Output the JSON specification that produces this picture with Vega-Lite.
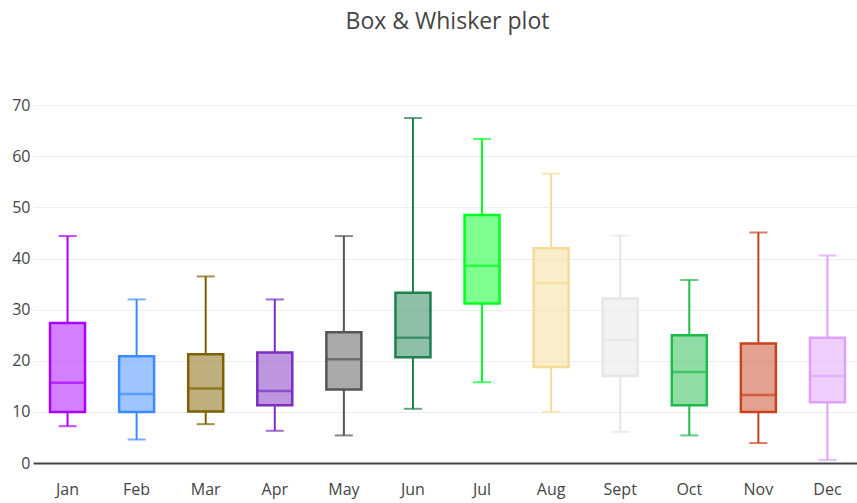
{
  "$schema": "https://vega.github.io/schema/vega-lite/v6.json",
  "width": 829,
  "height": 368,
  "autosize": "none",
  "padding": {"left": 33, "top": 95, "right": 0, "bottom": 40},
  "background": "white",
  "title": {
    "text": "Box & Whisker plot",
    "font": "Open Sans",
    "fontSize": 23,
    "fontWeight": "normal",
    "color": "#444",
    "anchor": "middle",
    "baseline": "bottom",
    "offset": 38
  },
  "config": {
    "view": {"stroke": null},
    "axis": {
      "labelFont": "Open Sans",
      "labelFontSize": 16,
      "labelColor": "#444",
      "ticks": false,
      "title": null
    }
  },
  "data": {
    "values": [
      {"month": "Jan", "min": 7.2, "q1": 10.0, "median": 15.7, "q3": 27.4, "max": 44.4},
      {"month": "Feb", "min": 4.6, "q1": 10.0, "median": 13.5, "q3": 20.9, "max": 32.0},
      {"month": "Mar", "min": 7.6, "q1": 10.1, "median": 14.6, "q3": 21.3, "max": 36.5},
      {"month": "Apr", "min": 6.3, "q1": 11.3, "median": 14.1, "q3": 21.6, "max": 32.0},
      {"month": "May", "min": 5.4, "q1": 14.4, "median": 20.3, "q3": 25.6, "max": 44.4},
      {"month": "Jun", "min": 10.6, "q1": 20.7, "median": 24.5, "q3": 33.3, "max": 67.5},
      {"month": "Jul", "min": 15.8, "q1": 31.2, "median": 38.6, "q3": 48.5, "max": 63.4},
      {"month": "Aug", "min": 10.0, "q1": 18.8, "median": 35.2, "q3": 42.0, "max": 56.6},
      {"month": "Sept", "min": 6.1, "q1": 17.0, "median": 24.1, "q3": 32.2, "max": 44.5},
      {"month": "Oct", "min": 5.4, "q1": 11.3, "median": 17.8, "q3": 25.0, "max": 35.8},
      {"month": "Nov", "min": 3.9, "q1": 10.0, "median": 13.3, "q3": 23.4, "max": 45.1},
      {"month": "Dec", "min": 0.6, "q1": 11.9, "median": 17.0, "q3": 24.5, "max": 40.6}
    ]
  },
  "encoding": {
    "x": {
      "field": "month",
      "type": "nominal",
      "sort": null,
      "scale": {"paddingInner": 0, "paddingOuter": 0},
      "axis": {
        "labelAngle": 0,
        "labelPadding": 18,
        "domainColor": "#444",
        "domainWidth": 2,
        "grid": false
      }
    },
    "color": {
      "field": "month",
      "type": "nominal",
      "sort": null,
      "legend": null,
      "scale": {
        "domain": ["Jan","Feb","Mar","Apr","May","Jun","Jul","Aug","Sept","Oct","Nov","Dec"],
        "range": ["#aa00ff","#3d8bff","#7f6000","#7b2ebf","#555555","#1e7f4f","#00ff22","#f5dc96","#e6e6e6","#1fbb4a","#c94320","#e0a0ff"]
      }
    }
  },
  "layer": [
    {
      "mark": {"type": "rule", "strokeWidth": 2},
      "encoding": {
        "y": {
          "field": "min",
          "type": "quantitative",
          "scale": {"domain": [0, 72], "nice": false},
          "axis": {
            "values": [0, 10, 20, 30, 40, 50, 60, 70],
            "grid": true,
            "gridColor": "#eeeeee",
            "gridWidth": 1,
            "domain": false,
            "labelPadding": 3
          }
        },
        "y2": {"field": "q1"}
      }
    },
    {
      "mark": {"type": "rule", "strokeWidth": 2},
      "encoding": {
        "y": {"field": "q3", "type": "quantitative"},
        "y2": {"field": "max"}
      }
    },
    {
      "mark": {"type": "tick", "thickness": 2, "size": 18, "orient": "horizontal"},
      "encoding": {"y": {"field": "min", "type": "quantitative"}}
    },
    {
      "mark": {"type": "tick", "thickness": 2, "size": 18, "orient": "horizontal"},
      "encoding": {"y": {"field": "max", "type": "quantitative"}}
    },
    {
      "mark": {"type": "bar", "width": 35, "fillOpacity": 0.5, "strokeWidth": 2.5},
      "encoding": {
        "y": {"field": "q1", "type": "quantitative"},
        "y2": {"field": "q3"},
        "fill": {"field": "month", "type": "nominal", "sort": null, "legend": null,
          "scale": {
            "domain": ["Jan","Feb","Mar","Apr","May","Jun","Jul","Aug","Sept","Oct","Nov","Dec"],
            "range": ["#aa00ff","#3d8bff","#7f6000","#7b2ebf","#555555","#1e7f4f","#00ff22","#f5dc96","#e6e6e6","#1fbb4a","#c94320","#e0a0ff"]
          }
        },
        "stroke": {"field": "month", "type": "nominal", "sort": null, "legend": null,
          "scale": {
            "domain": ["Jan","Feb","Mar","Apr","May","Jun","Jul","Aug","Sept","Oct","Nov","Dec"],
            "range": ["#aa00ff","#3d8bff","#7f6000","#7b2ebf","#555555","#1e7f4f","#00ff22","#f5dc96","#e6e6e6","#1fbb4a","#c94320","#e0a0ff"]
          }
        }
      }
    },
    {
      "mark": {"type": "tick", "thickness": 2.5, "size": 35, "orient": "horizontal"},
      "encoding": {"y": {"field": "median", "type": "quantitative"}}
    }
  ]
}
